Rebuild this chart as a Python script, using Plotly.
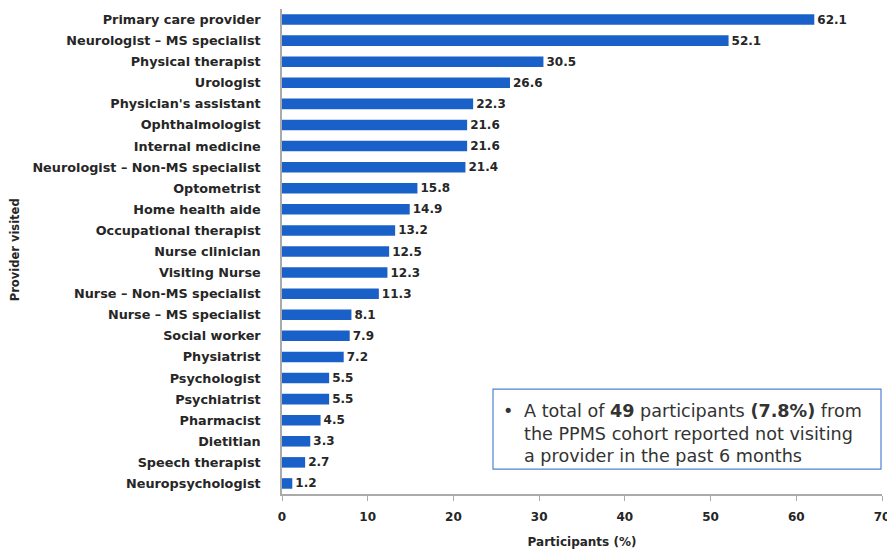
import plotly.graph_objects as go

providers = [
    "Primary care provider", "Neurologist – MS specialist", "Physical therapist", "Urologist",
    "Physician's assistant", "Ophthalmologist", "Internal medicine", "Neurologist – Non-MS specialist",
    "Optometrist", "Home health aide", "Occupational therapist", "Nurse clinician", "Visiting Nurse",
    "Nurse – Non-MS specialist", "Nurse – MS specialist", "Social worker", "Physiatrist",
    "Psychologist", "Psychiatrist", "Pharmacist", "Dietitian", "Speech therapist", "Neuropsychologist",
]
percent = [62.1, 52.1, 30.5, 26.6, 22.3, 21.6, 21.6, 21.4, 15.8, 14.9, 13.2, 12.5, 12.3,
           11.3, 8.1, 7.9, 7.2, 5.5, 5.5, 4.5, 3.3, 2.7, 1.2]
x_ticks = [0, 10, 20, 30, 40, 50, 60, 70]

BLUE = "#1a60c9"
FONT = "DejaVu Sans"
TXT = "#262626"
AXIS = "#aaaaaa"

# page has an 8px body margin: plot area in page px is x 282..882, y 8.5..494
L, R = 274, 895 - 874
T, B = 0.5, 549 - 486
PH = 494 - 8.5

fig = go.Figure(go.Bar(
    x=percent, y=providers, orientation="h",
    marker=dict(color=BLUE, line=dict(width=0)),
    width=0.5,
    text=[f"<b>{v:.1f}</b>" for v in percent], textposition="outside",
    constraintext="none",
    textfont=dict(family=FONT, size=12, color=TXT),
    cliponaxis=False,
))

fig.update_layout(
    width=895, height=549,
    margin=dict(l=L, r=R, t=T, b=B, autoexpand=False),
    plot_bgcolor="white", paper_bgcolor="white",
    showlegend=False,
    font=dict(family=FONT, color=TXT),
    xaxis=dict(range=[0, 70], tickvals=x_ticks, showgrid=False, zeroline=False, automargin=False,
               showline=True, linecolor=AXIS, linewidth=1.5,
               ticks="outside", ticklen=5, tickcolor=AXIS, ticklabelstandoff=6,
               tickfont=dict(family=FONT, size=12, color=TXT, weight="bold"),
               title=dict(text="<b>Participants (%)</b>", font=dict(family=FONT, size=12, color=TXT), standoff=14)),
    yaxis=dict(categoryorder="array", categoryarray=providers[::-1], autorange=False,
               range=[-0.5, len(providers) - 0.5], automargin=False,
               showgrid=False, zeroline=False, showline=True, linecolor=AXIS, linewidth=1.5,
               ticks="", ticklabelstandoff=17,
               tickfont=dict(family=FONT, size=12.8, color=TXT, weight="bold")),
)

fig.add_annotation(xref="paper", yref="paper", x=-(282 - 15) / 600, y=(494 - 250) / PH,
                   text="<b>Provider visited</b>", textangle=-90, showarrow=False,
                   xanchor="center", yanchor="middle", font=dict(family=FONT, size=11.5, color=TXT))

# annotation box
x0, x1 = (493 - 282) / 600, (881 - 282) / 600
y0, y1 = (494 - 469) / PH, (494 - 389) / PH
fig.add_shape(type="rect", xref="paper", yref="paper", x0=x0, x1=x1, y0=y0, y1=y1,
              line=dict(color="#4f83d4", width=1.2), fillcolor="white")
lines = [
    "A total of <b>49</b> participants <b>(7.8%)</b> from",
    "the PPMS cohort reported not visiting",
    "a provider in the past 6 months",
]
tx = (522 - 282) / 600
for i, ln in enumerate(lines):
    ypix = 411 + i * 22.5
    fig.add_annotation(xref="paper", yref="paper", x=tx, y=(494 - ypix) / PH,
                       text=ln, showarrow=False, xanchor="left", yanchor="middle",
                       font=dict(family=FONT, size=17.6, color="#333"))
fig.add_annotation(xref="paper", yref="paper", x=(508 - 282) / 600, y=(494 - 411) / PH,
                   text="•", showarrow=False, xanchor="center", yanchor="middle",
                   font=dict(family=FONT, size=17.6, color="#333"))

fig.write_html("out.html")
